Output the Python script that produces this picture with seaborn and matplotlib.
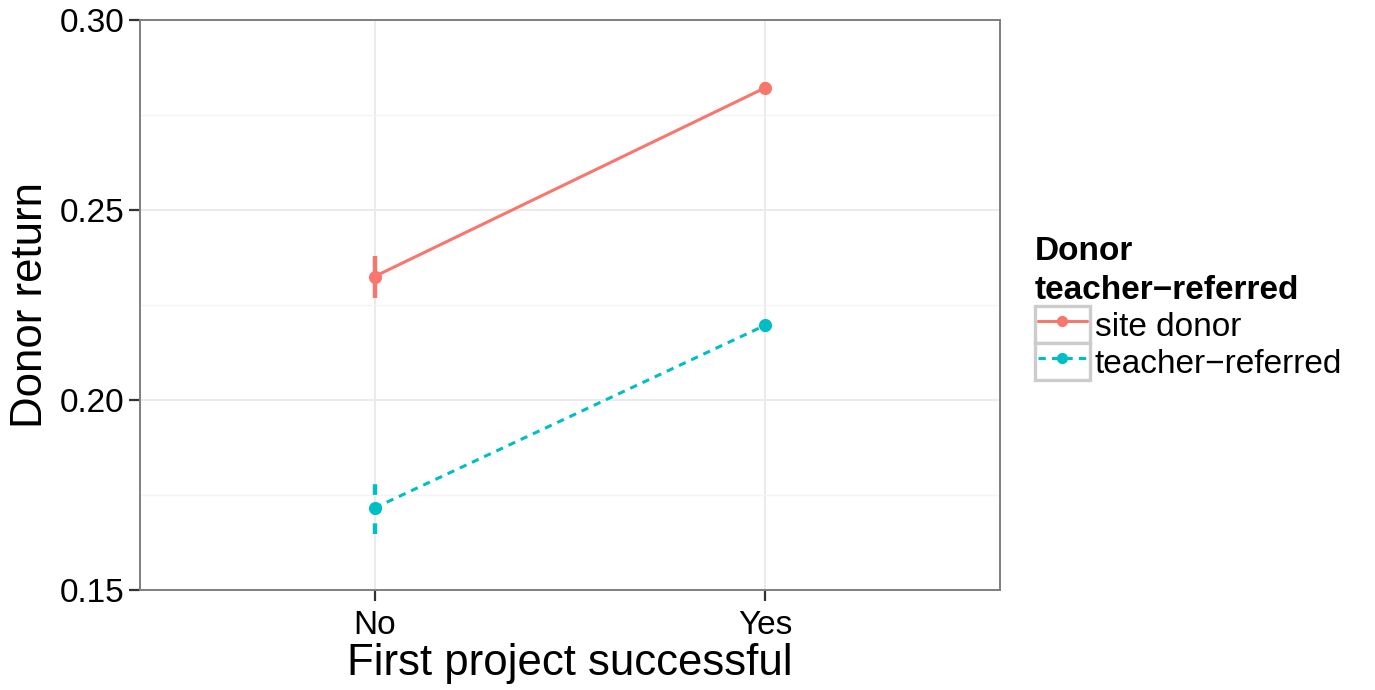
import numpy as np
import pandas as pd
import seaborn as sns
import matplotlib
matplotlib.use("Agg")
import matplotlib.pyplot as plt
from matplotlib.lines import Line2D
from matplotlib.patches import Rectangle
from matplotlib.legend_handler import HandlerLine2D
from matplotlib.ticker import MultipleLocator

# Mean donor return by first-project outcome, with interval bounds
outcomes = ["No", "Yes"]
groups = ["site donor", "teacher\u2212referred"]
site_mean = [0.2325, 0.2822]
site_lo = [0.2268, 0.2805]
site_hi = [0.2380, 0.2838]
teacher_mean = [0.1716, 0.2197]
teacher_lo = [0.1647, 0.2178]
teacher_hi = [0.1779, 0.2215]

palette = {groups[0]: "#F8766D", groups[1]: "#00BFC4"}
styles = {groups[0]: "-", groups[1]: (0, (2.4, 2.0))}

df = pd.DataFrame({
    "First project successful": outcomes * 2,
    "Donor return": site_mean + teacher_mean,
    "lo": site_lo + teacher_lo,
    "hi": site_hi + teacher_hi,
    "group": [groups[0]] * 2 + [groups[1]] * 2,
})

sns.set_theme(style="white")
plt.rcParams["font.family"] = ["Liberation Sans", "DejaVu Sans"]
plt.rcParams["text.color"] = "black"
plt.rcParams["axes.labelcolor"] = "black"

fig = plt.figure(figsize=(13.75, 6.9), dpi=100)
ax = fig.add_axes([0.1018, 0.1449, 0.6255, 0.8261])

# interval bars behind the points
for g in groups:
    sub = df[df["group"] == g]
    xpos = [outcomes.index(v) for v in sub["First project successful"]]
    ax.vlines(xpos, sub["lo"], sub["hi"], color=palette[g], lw=3.2,
              linestyles=[styles[g]], zorder=3)

sns.pointplot(data=df, x="First project successful", y="Donor return",
              hue="group", hue_order=groups, order=outcomes,
              palette=palette, errorbar=None, dodge=False,
              markers=["o", "o"], linestyles=["-", "--"],
              markersize=7.8, linewidth=2.2, legend=False, ax=ax)

# apply the dash pattern to the connecting lines
for line in ax.lines:
    c = matplotlib.colors.to_hex(line.get_color()).upper()
    if c == palette[groups[1]].upper():
        line.set_linestyle(styles[groups[1]])
    line.set_zorder(4)

ax.set_xlim(-0.6, len(outcomes) - 0.4)
ax.set_ylim(0.15, 0.30)
ax.yaxis.set_minor_locator(MultipleLocator(0.025))
ax.set_yticks([0.15, 0.20, 0.25, 0.30])
ax.set_yticklabels(["0.15", "0.20", "0.25", "0.30"])

ax.set_axisbelow(True)
ax.grid(True, which="major", color="#EBEBEB", lw=1.4)
ax.grid(True, which="minor", axis="y", color="#F4F4F4", lw=1.0)
for s in ax.spines.values():
    s.set_color("#7F7F7F")
    s.set_linewidth(1.4)

ax.tick_params(axis="both", which="major", labelsize=24, length=8,
               width=1.6, color="#333333", labelcolor="black", pad=3.5,
               direction="out", bottom=True, left=True)
ax.tick_params(axis="x", which="major", pad=6.5)
ax.tick_params(axis="y", which="minor", length=0)
ax.set_xlabel("First project successful", fontsize=31.5, labelpad=1)
ax.set_ylabel("Donor return", fontsize=31.5, labelpad=6)


class BoxedLine(HandlerLine2D):
    """Legend key drawn inside a grey-bordered box, line inset slightly."""

    def create_artists(self, legend, orig_handle, xdescent, ydescent,
                       width, height, fontsize, trans):
        inset = 0.1 * fontsize
        arts = super().create_artists(legend, orig_handle,
                                      xdescent - inset, ydescent,
                                      width - 2 * inset, height,
                                      fontsize, trans)
        box = Rectangle((-xdescent, -ydescent), width, height,
                        facecolor="white", edgecolor="#CCCCCC", lw=2.4,
                        transform=trans)
        return [box] + list(arts)


handles = [Line2D([], [], color=palette[g], linestyle=styles[g], lw=2.2,
                  marker="o", markersize=7) for g in groups]
leg = ax.legend(handles, groups, title="Donor\nteacher\u2212referred",
                loc="upper left", bbox_to_anchor=(0.7527, 0.658),
                bbox_transform=fig.transFigure,
                frameon=False, fontsize=24, title_fontsize=24,
                handlelength=1.65, handleheight=1.33, handletextpad=0.15,
                labelspacing=0.0, borderpad=0.0, borderaxespad=0.0,
                numpoints=1,
                handler_map={Line2D: BoxedLine(numpoints=1)})
leg.get_title().set_fontweight("bold")
leg.get_title().set_linespacing(1.35)
leg._legend_box.align = "left"

fig.savefig("out.png", dpi=100)
